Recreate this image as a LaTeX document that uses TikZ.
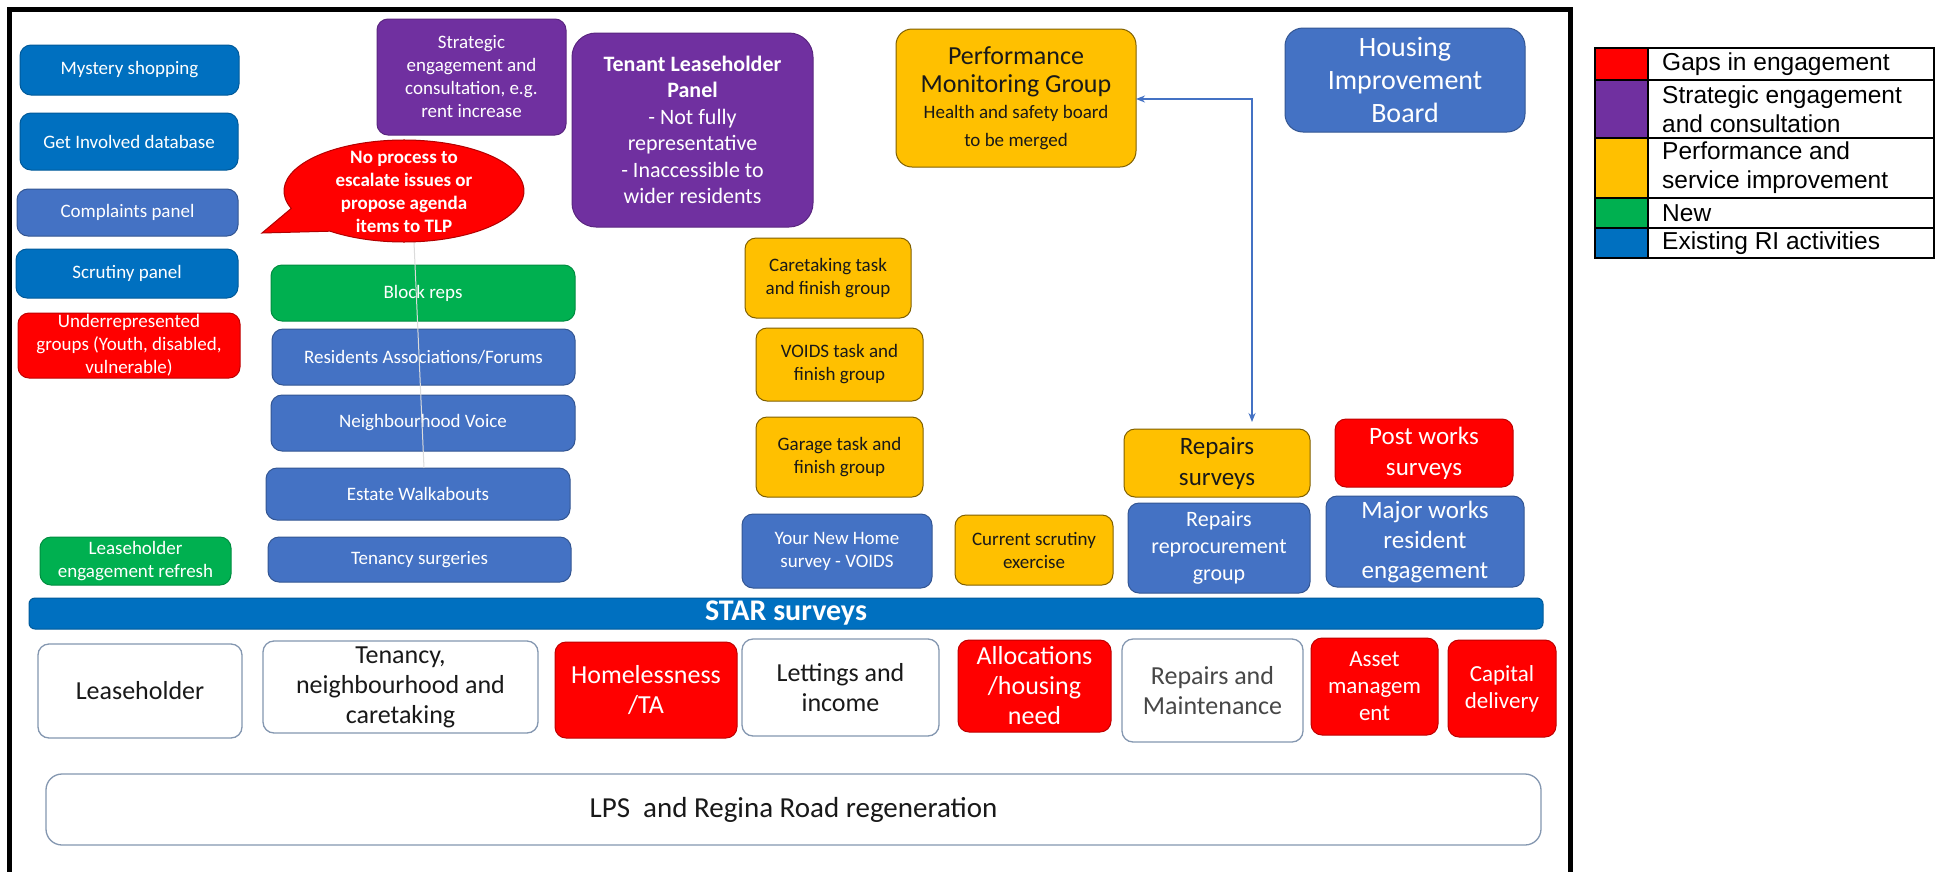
\documentclass[tikz,border=0pt]{standalone}
\usepackage{fontspec}
\setmainfont{Carlito}
\newfontfamily\arialf{Liberation Sans}
\usetikzlibrary{arrows.meta}
\definecolor{dkblue}{HTML}{0070C0}
\definecolor{mdblue}{HTML}{4472C4}
\definecolor{purp}{HTML}{7030A0}
\definecolor{cgold}{HTML}{FFC000}
\definecolor{grn}{HTML}{00B050}
\definecolor{rd}{HTML}{FF0000}
\definecolor{wbord}{HTML}{8497B0}
\newcommand\fsz[2]{\fontsize{#1}{#2}\selectfont}
\newcommand\bx[7]{\node[#2, anchor=north west, minimum width={(#5-#3)*1pt}, minimum height={(#6-#4)*1pt}] (#1) at (#3,#4) {#7};}
\tikzset{
  base/.style={rounded corners=11pt, line width=1pt, align=center, inner sep=0pt, outer sep=0pt, font=\fsz{19}{23}},
  bdk/.style={base, fill=dkblue, draw=dkblue!80!black, text=white},
  bmd/.style={base, fill=mdblue, draw=mdblue!75!black, text=white},
  bpu/.style={base, fill=purp, draw=purp!80!black, text=white},
  bgo/.style={base, fill=cgold, draw=cgold!50!black, text=black!90},
  bgr/.style={base, fill=grn, draw=grn!80!black, text=white},
  brd/.style={base, fill=rd, draw=rd!75!black, text=white},
  bwh/.style={base, fill=white, draw=wbord, line width=1.3pt, text=black!90},
  legtxt/.style={anchor=west, align=left, inner sep=0pt, font=\arialf\fsz{24.5}{29}},
}
\begin{document}
\begin{tikzpicture}[x=1pt,y=-1pt]
\useasboundingbox (0,0) rectangle (1939,871);
\fill[white] (0,0) rectangle (1939,871);

% frame
\draw[line width=4.5pt] (9.5,885) -- (9.5,9.5) -- (1570.5,9.5) -- (1570.5,885);

% left column
\bx{mys}{bdk}{20}{45}{239}{95}{Mystery shopping}
\bx{gid}{bdk}{20}{113}{238}{170}{Get Involved database}
\bx{cmp}{bmd}{17}{189}{238}{236}{Complaints panel}
\bx{scr}{bdk}{16}{249}{238}{298}{Scrutiny panel}
\bx{und}{brd}{18}{313}{240}{378}{Underrepresented\\groups (Youth, disabled,\\vulnerable)}
\bx{ler}{bgr}{40}{537}{231}{585}{Leaseholder\\engagement refresh}

% strategic + TLP
\bx{seg}{bpu}{377}{19}{566}{135}{Strategic\\engagement and\\consultation, e.g.\\rent increase}
\bx{tlp}{bpu, rounded corners=24pt, font=\fsz{22}{26.5}}{572}{33}{813}{227}{\textbf{Tenant Leaseholder}\\\textbf{Panel}\\- Not fully\\representative\\- Inaccessible to\\wider residents}

% neighbourhood column
\bx{blk}{bgr}{271}{265}{575}{321}{Block reps}
\bx{raf}{bmd}{272}{329}{575}{385}{Residents Associations/Forums}
\bx{nbv}{bmd}{271}{395}{575}{451}{Neighbourhood Voice}
\bx{ewk}{bmd}{266}{468}{570}{520}{Estate Walkabouts}
\bx{tsg}{bmd}{268}{537}{571}{582}{Tenancy surgeries}

% thin grey line from callout
\coordinate (gla) at (414,242);
\coordinate (glb) at (424,468);
\draw[black!14, line width=1pt] (gla) -- (glb);

% callout
\filldraw[fill=rd, draw=rd!70!black, line width=1pt] (404,191) ++(160:120 and 51) arc[start angle=160, end angle=488, x radius=120, y radius=51] -- (262,233) -- cycle;
\node[align=center, inner sep=0pt, text=white, font=\bfseries\fsz{19}{23}] (callout) at (404,192) {No process to\\escalate issues or\\propose agenda\\items to TLP};

% task and finish groups
\bx{ctk}{bgo}{745}{238}{911}{318}{Caretaking task\\and finish group}
\bx{vds}{bgo}{756}{328}{923}{401}{VOIDS task and\\finish group}
\bx{grg}{bgo}{756}{417}{923}{497}{Garage task and\\finish group}
\bx{ynh}{bmd}{742}{514}{932}{588}{Your New Home\\survey - VOIDS}
\bx{cse}{bgo}{955}{515}{1113}{585}{Current scrutiny\\exercise}

% PMG and HIB
\bx{pmg}{bgo, rounded corners=16pt, font=\fsz{26}{28}}{896}{29}{1136}{167}{Performance\\Monitoring Group\\[-2pt]\fsz{19}{22}Health and safety board\\\fsz{19}{22}to be merged}
\bx{hib}{bmd, rounded corners=18pt, font=\fsz{28}{33}}{1285}{28}{1525}{132}{Housing\\Improvement\\Board}

% repairs / major works
\bx{rsv}{bgo, font=\fsz{25}{31}}{1124}{429}{1310}{497}{Repairs\\surveys}
\bx{rrg}{bmd, font=\fsz{22}{27}}{1128}{503}{1310}{593}{Repairs\\reprocurement\\group}
\bx{pws}{brd, font=\fsz{25}{31}}{1335}{419}{1513}{487}{Post works\\surveys}
\bx{mwr}{bmd, font=\fsz{25}{30}}{1326}{496}{1524}{587}{Major works\\resident\\engagement}

% arrow PMG <-> Repairs surveys
\coordinate (bend) at (1252,99);
\draw[mdblue, line width=1.4pt, {Stealth[length=9pt,width=7pt]}-{Stealth[length=9pt,width=7pt]}, shorten >=7pt] (pmg.east |- bend) -- (bend) -- (bend |- rsv.north);

% STAR bar
\bx{star}{bdk, rounded corners=6pt, font=\bfseries\fsz{30}{32}}{29}{598}{1543}{629}{STAR surveys}

% service areas
\bx{lsh}{bwh, font=\fsz{26}{30}}{38}{644}{242}{738}{Leaseholder}
\bx{tnc}{bwh, font=\fsz{26}{30}}{263}{641}{538}{733}{Tenancy,\\neighbourhood and\\caretaking}
\bx{hml}{brd, font=\fsz{26}{30}}{555}{642}{737}{738}{Homelessness\\/TA}
\bx{lti}{bwh, font=\fsz{26}{30}}{742}{639}{939}{736}{Lettings and\\income}
\bx{alc}{brd, font=\fsz{26}{30}}{958}{640}{1111}{732}{Allocations\\/housing\\need}
\bx{rmt}{bwh, text=black!72, font=\fsz{26}{30}}{1122}{639}{1303}{742}{Repairs and\\Maintenance}
\bx{asm}{brd, font=\fsz{23}{27}}{1311}{638}{1438}{735}{Asset\\managem\\ent}
\bx{cap}{brd, font=\fsz{23}{27}}{1448}{640}{1556}{737}{Capital\\delivery}

% LPS
\bx{lps}{bwh, rounded corners=16pt, font=\fsz{29}{32}}{46}{774}{1541}{845}{LPS\ \ and Regina Road regeneration}

% legend
\fill[rd] (1595,48) rectangle (1648,80);
\fill[purp] (1595,80) rectangle (1648,138);
\fill[cgold] (1595,138) rectangle (1648,198);
\fill[grn] (1595,198) rectangle (1648,228);
\fill[dkblue] (1595,228) rectangle (1648,258);
\draw[line width=2pt] (1595,48) rectangle (1934,258);
\draw[line width=2pt] (1648,48) -- (1648,258);
\draw[line width=2pt] (1595,80) -- (1934,80);
\draw[line width=2pt] (1595,138) -- (1934,138);
\draw[line width=2pt] (1595,198) -- (1934,198);
\draw[line width=2pt] (1595,228) -- (1934,228);
\node[legtxt] (lg1) at (1662,64) {Gaps in engagement};
\node[legtxt] (lg2) at (1662,109) {Strategic engagement\\and consultation};
\node[legtxt] (lg3) at (1662,168) {Performance and\\service improvement};
\node[legtxt] (lg4) at (1662,213) {New};
\node[legtxt] (lg5) at (1662,243) {Existing RI activities};
\end{tikzpicture}
\end{document}
